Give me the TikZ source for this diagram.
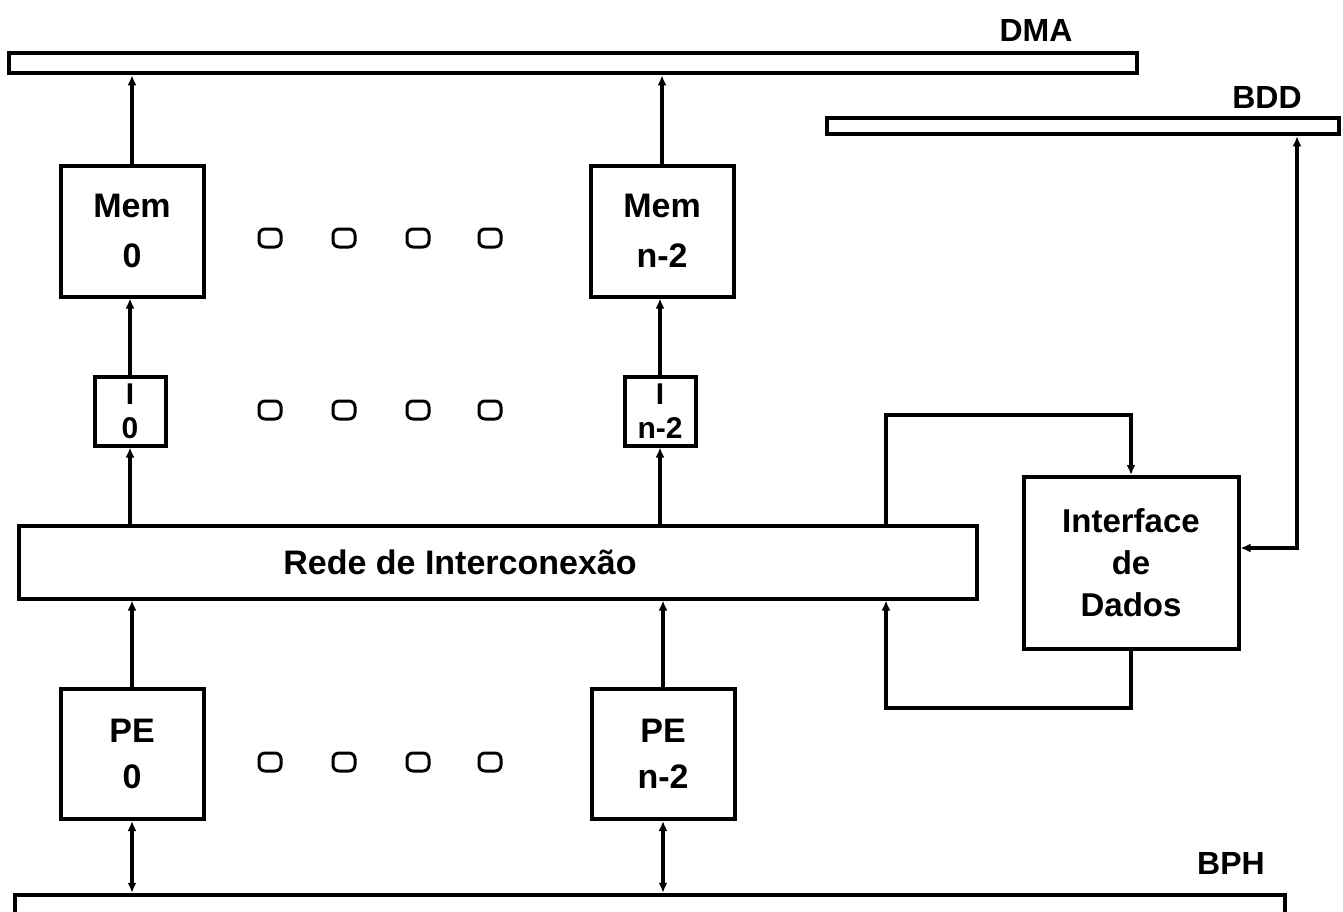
\documentclass[tikz,border=0pt]{standalone}
\usepackage{fontspec}
\setmainfont{Liberation Sans}
\usetikzlibrary{arrows.meta}

\begin{document}
\begin{tikzpicture}[x=1pt, y=-1pt,
  unit/.style={draw, line width=4pt, inner sep=0pt, align=center,
    font=\bfseries\fontsize{34}{50}\selectfont},
  bus/.style={draw, line width=4.5pt, inner sep=0pt},
  buslabel/.style={font=\bfseries\fontsize{32}{36}\selectfont},
  link/.style={line width=3.5pt, -{Latex[length=10pt,width=9pt]}},
  duplex/.style={line width=3.5pt, {Latex[length=10pt,width=9pt]}-{Latex[length=10pt,width=9pt]}},
  ring/.style={line width=3pt, rounded corners=6pt}]
% page frame
\useasboundingbox (0,0) rectangle (1343,911);
\clip (0,0) rectangle (1343,911);
% Buses
\node[bus, minimum width=1128pt, minimum height=20pt] (dma) at (573,63) {};
\node[bus, minimum width=512pt, minimum height=16pt] (bdd) at (1083,126) {};
\node[bus, minimum width=1270pt, minimum height=50pt] (bph) at (650,920) {};
\node[buslabel] (dmaLbl) at (1036,30) {DMA};
\node[buslabel] (bddLbl) at (1267,97) {BDD};
\node[buslabel] (bphLbl) at (1231,863) {BPH};
% Memories
\node[unit, minimum width=143pt, minimum height=131pt] (mem0) at (132,231) {Mem\\0};
\node[unit, minimum width=143pt, minimum height=131pt] (memN) at (662,231) {Mem\\n-2};
% I modules
\node[unit, minimum width=71pt, minimum height=69pt,
  font=\bfseries\fontsize{30}{34}\selectfont] (i0) at (130,411) {I\\0};
\node[unit, minimum width=71pt, minimum height=69pt,
  font=\bfseries\fontsize{30}{34}\selectfont] (iN) at (660,411) {I\\n-2};
% Interconnection network
\node[unit, minimum width=958pt, minimum height=73pt] (rede) at (498,562)
  {Rede de Interconexão\hspace*{76pt}};
% Processing elements
\node[unit, minimum width=143pt, minimum height=130pt,
  font=\bfseries\fontsize{34}{46}\selectfont] (pe0) at (132,754) {PE\\0};
\node[unit, minimum width=143pt, minimum height=130pt,
  font=\bfseries\fontsize{34}{46}\selectfont] (peN) at (663,754) {PE\\n-2};
% Data interface
\node[unit, minimum width=215pt, minimum height=172pt,
  font=\bfseries\fontsize{33}{42}\selectfont] (iface) at (1131,563) {Interface\\de\\Dados};
% Vertical links
\foreach \col in {0,N} {
  \draw[link] (mem\col.north) -- (mem\col.north |- dma.south);
  \draw[link] (i\col.north) -- (i\col.north |- mem\col.south);
  \draw[link] (rede.north -| i\col) -- (i\col.south);
  \draw[link] (pe\col.north) -- (pe\col.north |- rede.south);
  \draw[duplex] (pe\col.south) -- (pe\col.south |- bph.north);
}
% Loop through the data interface
\coordinate (tapT) at (886,415);
\coordinate (tapB) at (886,708);
\coordinate (bddTap) at (1297,548);
\draw[link] (tapT |- rede.north) -- (tapT) -| (iface.north);
\draw[link] (iface.south) |- (tapB) -- (tapB |- rede.south);
\draw[duplex] (bddTap |- bdd.south) -- (bddTap) -- (iface.east |- bddTap);
% Ellipsis marks
\foreach \y in {238,410,762} {
  \foreach \x in {270,344,418,490} {
    \draw[ring] (\x-11,\y-9) rectangle (\x+11,\y+9);
  }
}
\end{tikzpicture}
\end{document}
